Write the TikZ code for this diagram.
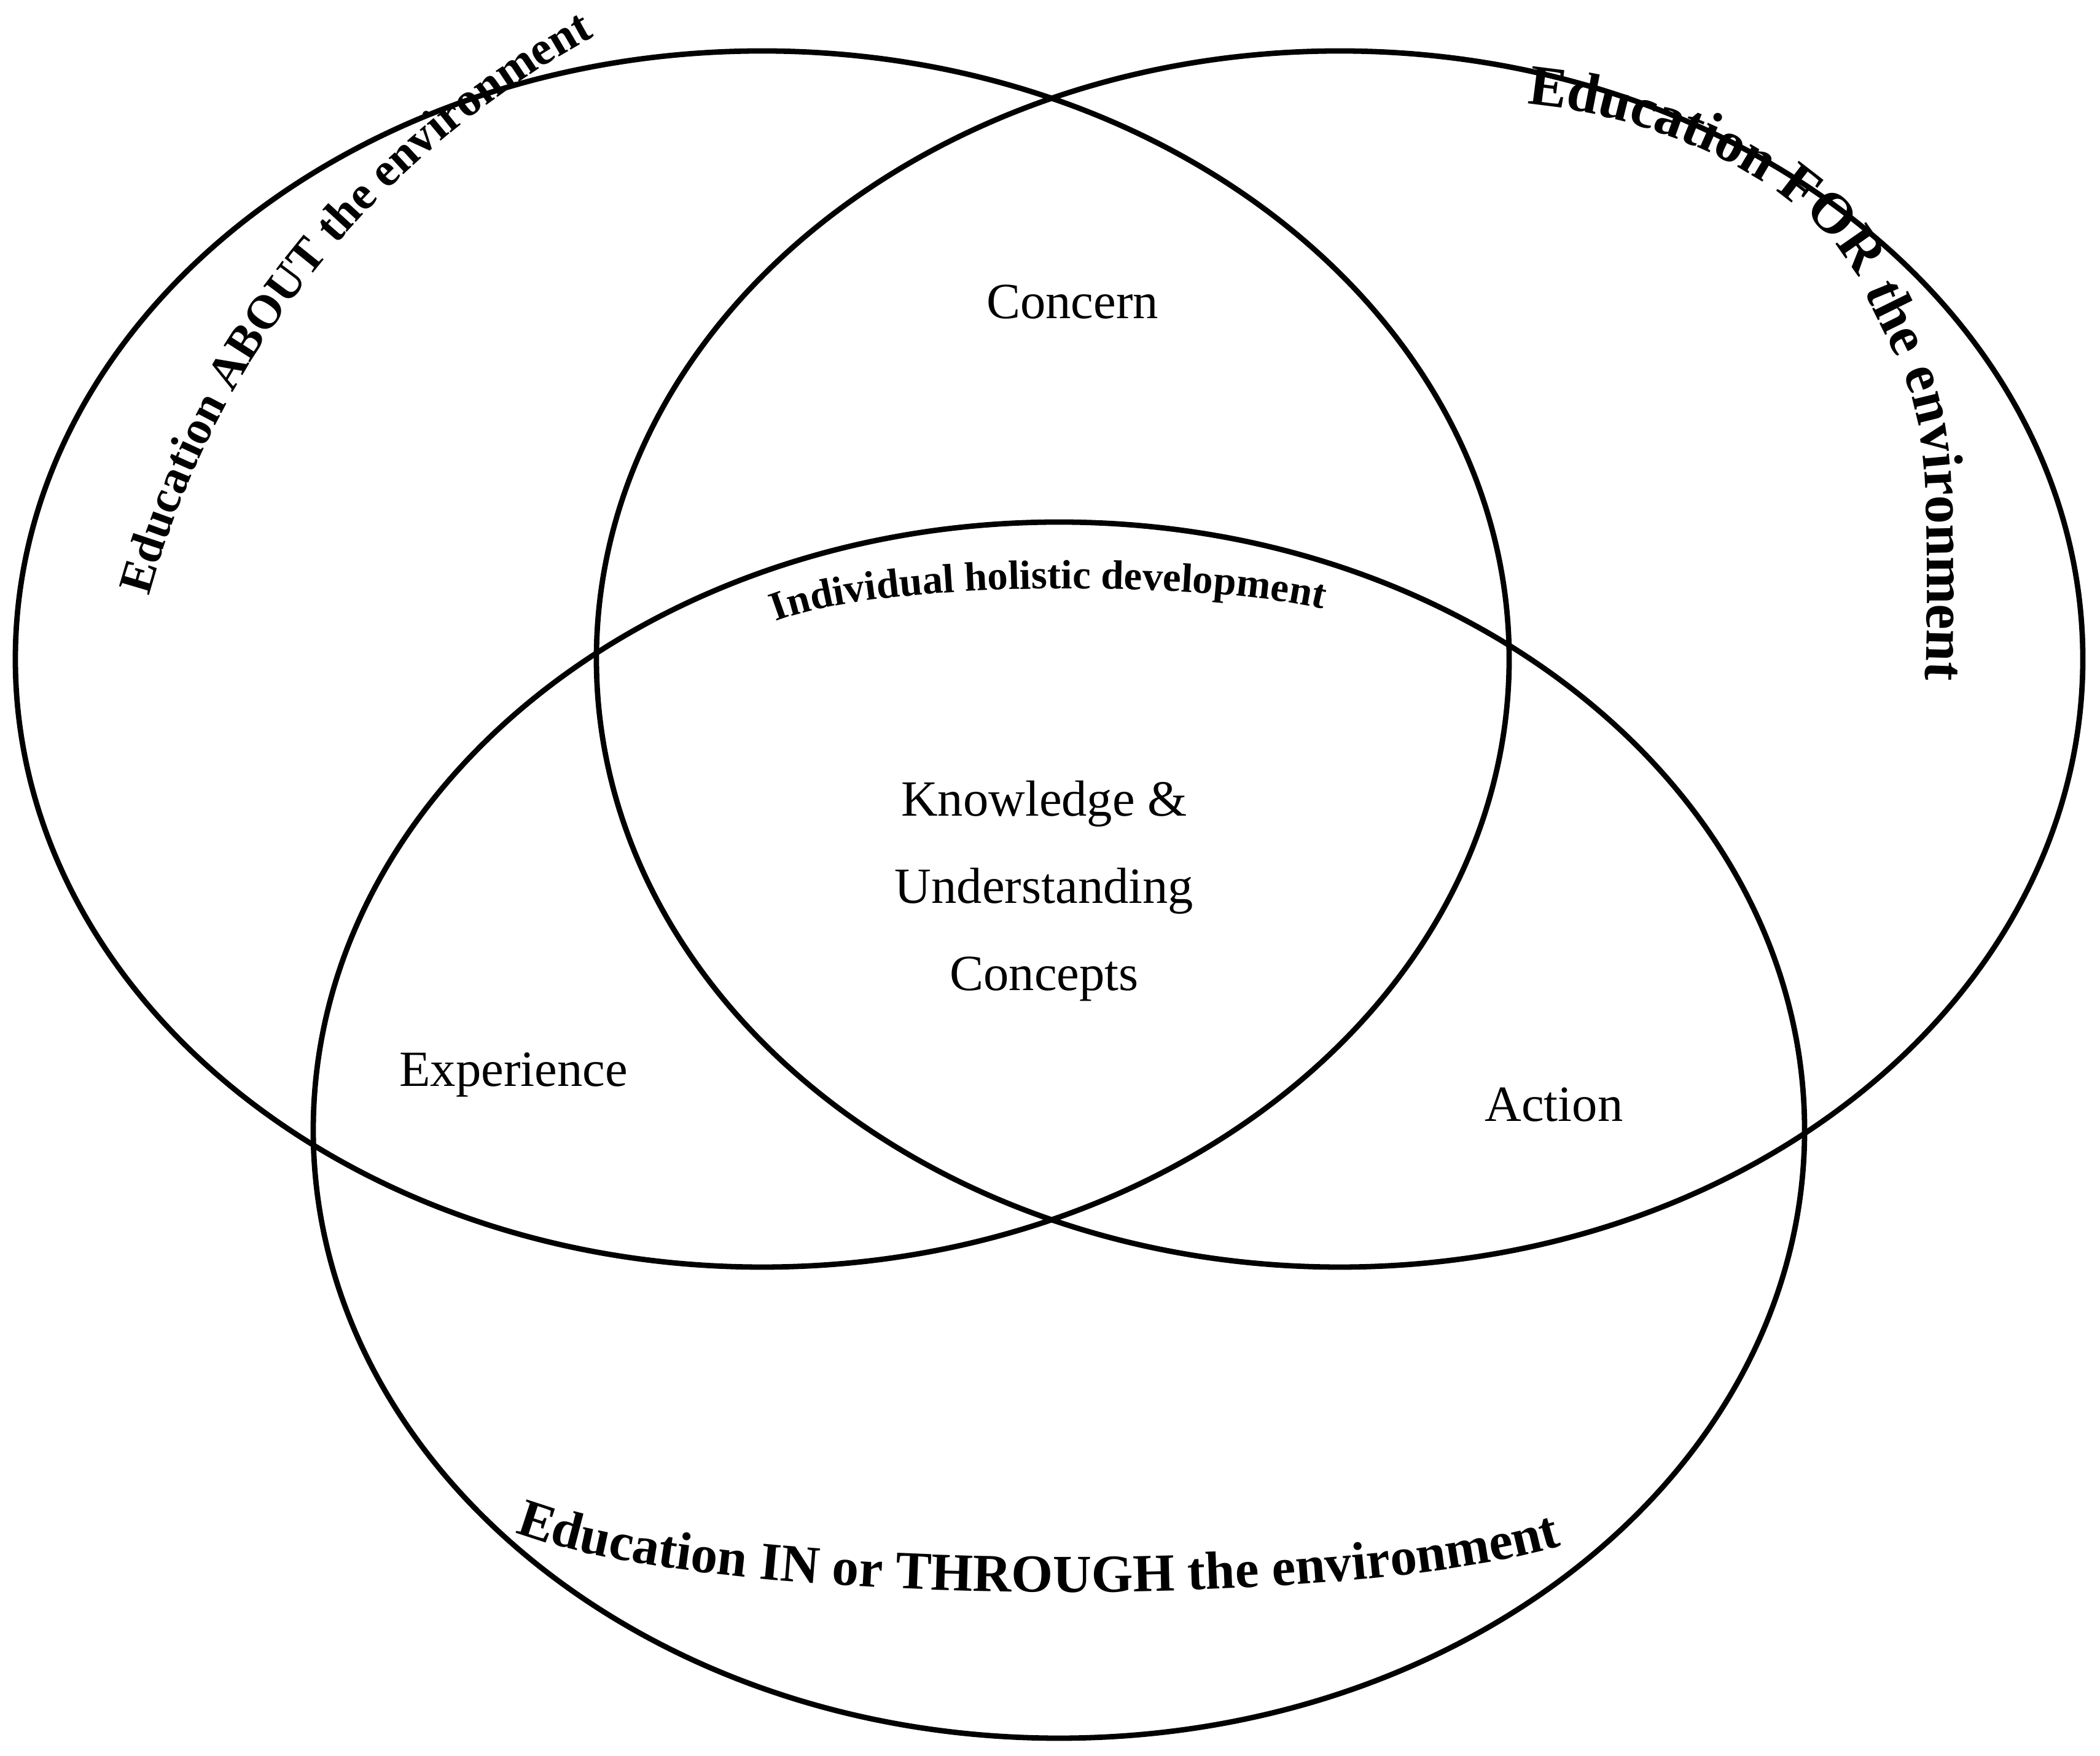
\documentclass[tikz,border=0pt]{standalone}
\usepackage{fontspec}
\setmainfont{Liberation Serif}
\usetikzlibrary{decorations.text}

\newcommand\aboutfont{\bfseries\fontsize{22}{26}\selectfont}
\newcommand\forfont{\bfseries\fontsize{26.5}{30}\selectfont}
\newcommand\throughfont{\bfseries\fontsize{24.8}{28}\selectfont}
\newcommand\holisticfont{\bfseries\fontsize{19}{23}\selectfont}

\tikzset{
  ring/.style={line width=2.5pt},
  region/.style={font=\fontsize{23.5}{40.4}\selectfont, align=center, inner sep=0pt}
}

\begin{document}
\begin{tikzpicture}
            \useasboundingbox (0,0) rectangle (34.19,28.59);
            % the three rings
            \draw[ring] (12.41,17.86) ellipse [x radius=12.16, y radius=9.90];
            \draw[ring] (21.81,17.86) ellipse [x radius=12.10, y radius=9.90];
            \draw[ring] (17.24,10.19) ellipse [x radius=12.14, y radius=9.90];
            % labels along the rings
            \path[decorate, decoration={text along path, text align=center,
                text={|\aboutfont|Education ABOUT the environment}}]
                (16.78,14.90) ++(166.1:14.90) arc[start angle=166.1, end angle=116.9, radius=14.90];
            \path[decorate, decoration={text along path, text align=center,
                text={|\forfont|Education FOR the environment}}]
                (24.45,26.92) .. controls (26.6,26.85) and (29.6,25.75) .. (30.42,23.71)
                .. controls (30.82,22.79) and (31.3,22.3) .. (31.35,20.5)
                .. controls (31.4,19.2) and (31.38,18.2) .. (31.33,17.10);
            \path[decorate, decoration={text along path, text align=center,
                text={|\throughfont|Education IN or THROUGH the environment}}]
                (8.25,3.70) .. controls (11.45,2.36) and (22.25,2.37) .. (25.55,3.47);
            \path[decorate, decoration={text along path, text align=center,
                text={|\holisticfont|Individual holistic development}}]
                (12.40,18.36) .. controls (13.95,19.22) and (20.20,19.14) .. (21.78,18.60);
            % regions
            \node[region] (concern) at (17.46,23.67) {Concern};
            \node[region] (core) at (17.00,14.08) {Knowledge \&\\Understanding\\Concepts};
            \node[region] (experience) at (8.36,11.09) {Experience};
            \node[region] (action) at (25.30,10.60) {Action};
        \end{tikzpicture}
\end{document}
